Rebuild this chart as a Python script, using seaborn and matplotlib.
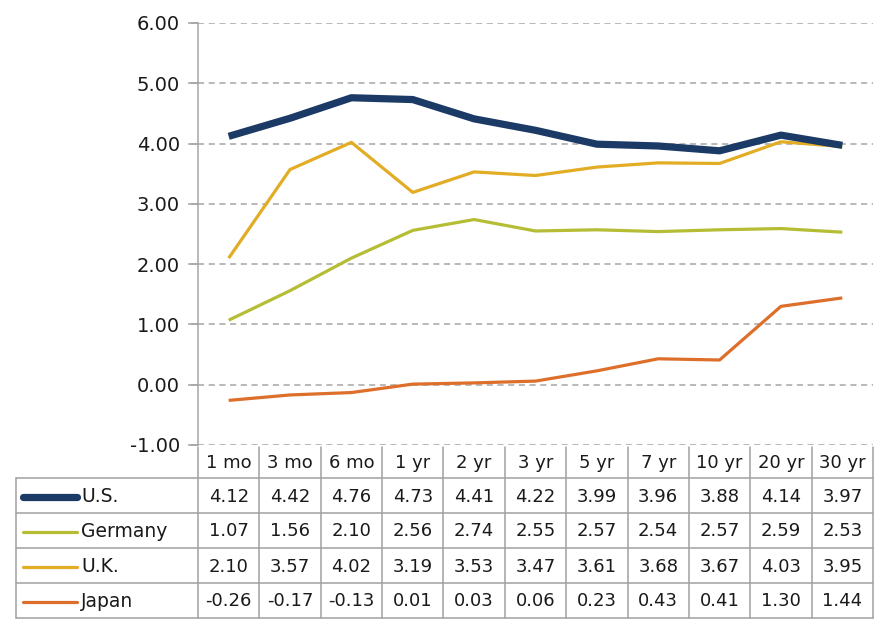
import matplotlib
matplotlib.use("Agg")
import matplotlib.pyplot as plt
import seaborn as sns
import pandas as pd
from matplotlib.lines import Line2D

tenors = ["1 mo", "3 mo", "6 mo", "1 yr", "2 yr", "3 yr", "5 yr", "7 yr", "10 yr", "20 yr", "30 yr"]
us = [4.12, 4.42, 4.76, 4.73, 4.41, 4.22, 3.99, 3.96, 3.88, 4.14, 3.97]
germany = [1.07, 1.56, 2.10, 2.56, 2.74, 2.55, 2.57, 2.54, 2.57, 2.59, 2.53]
uk = [2.10, 3.57, 4.02, 3.19, 3.53, 3.47, 3.61, 3.68, 3.67, 4.03, 3.95]
japan = [-0.26, -0.17, -0.13, 0.01, 0.03, 0.06, 0.23, 0.43, 0.41, 1.30, 1.44]
series_names = ["U.S.", "Germany", "U.K.", "Japan"]
yticks = [-1, 0, 1, 2, 3, 4, 5, 6]

colors = {"U.S.": "#1b3a66", "Germany": "#b5bd35", "U.K.": "#e2ad25", "Japan": "#dd6f2b"}
widths = {"U.S.": 5.2, "Germany": 2.3, "U.K.": 2.3, "Japan": 2.3}

sns.set_theme(style="white")
plt.rcParams["font.family"] = ["DejaVu Sans"]
plt.rcParams["axes.unicode_minus"] = False

W, H = 888, 621
fig = plt.figure(figsize=(W / 100, H / 100), dpi=100)

def fx(x):
    return x / W

def fy(y):
    return 1 - y / H

ax_l, ax_r, ax_t, ax_b = 198, 873, 23, 445
ax = fig.add_axes([fx(ax_l), fy(ax_b), (ax_r - ax_l) / W, (ax_b - ax_t) / H])

values = {"U.S.": us, "Germany": germany, "U.K.": uk, "Japan": japan}
rows = []
for name in series_names:
    for i, t in enumerate(tenors):
        rows.append({"tenor": t, "pos": i, "series": name, "value": values[name][i]})
df = pd.DataFrame(rows)

for name in ["Japan", "Germany", "U.K.", "U.S."]:
    sns.lineplot(data=df[df.series == name], x="pos", y="value", ax=ax,
                 color=colors[name], linewidth=widths[name], legend=False,
                 solid_capstyle="butt", solid_joinstyle="round")

txt = "#1a1a1a"
ax.set_xlim(-0.5, len(tenors) - 0.5)
ax.set_ylim(-1, 6)
ax.set_yticks(yticks)
ax.set_yticklabels([f"{v:.2f}" for v in yticks], fontsize=14, color=txt)
ax.set_xticks([])
ax.set_xlabel("")
ax.set_ylabel("")
for y in yticks:
    ax.axhline(y, color="#a6a6a6", lw=1.1, ls=(0, (4, 3)), zorder=0)
for s in ["top", "right", "bottom"]:
    ax.spines[s].set_visible(False)
ax.spines["left"].set_color("#a6a6a6")
ax.spines["left"].set_linewidth(1.1)
ax.tick_params(axis="y", direction="out", length=7, width=1.1, color="#a6a6a6",
               pad=6, left=True)

# short gridline stubs left of the axis (as in the reference)
for y in yticks:
    ax.plot([-0.5 - 7 / ((ax_r - ax_l) / len(tenors)), -0.5], [y, y],
            color="#a6a6a6", lw=1.1, clip_on=False, zorder=0)

# --- data table ---
col_edges = [ax_l + i * (ax_r - ax_l) / len(tenors) for i in range(len(tenors) + 1)]
row_edges = [447, 478, 513, 548, 583, 618]
tbl_left = 16
gcol = "#a0a0a0"
lw = 1.1

def hline(y, x0, x1):
    fig.add_artist(Line2D([fx(x0), fx(x1)], [fy(y), fy(y)], color=gcol, lw=lw))

def vline(x, y0, y1):
    fig.add_artist(Line2D([fx(x), fx(x)], [fy(y0), fy(y1)], color=gcol, lw=lw))

for y in row_edges[1:]:
    hline(y, tbl_left, ax_r)
for x in col_edges:
    vline(x, row_edges[0], row_edges[-1])
vline(tbl_left, row_edges[1], row_edges[-1])

fs = 13
for i, t in enumerate(tenors):
    cx = (col_edges[i] + col_edges[i + 1]) / 2
    cy = (row_edges[0] + row_edges[1]) / 2 + 1
    fig.text(fx(cx), fy(cy), t, ha="center", va="center", fontsize=fs, color=txt)

for r, name in enumerate(series_names):
    cy = (row_edges[r + 1] + row_edges[r + 2]) / 2 + 1
    fig.add_artist(Line2D([fx(23), fx(77)], [fy(cy), fy(cy)], color=colors[name],
                          lw=widths[name], solid_capstyle="round"))
    fig.text(fx(81), fy(cy), name, ha="left", va="center", fontsize=fs + 0.5, color=txt)
    for i, v in enumerate(values[name]):
        cx = (col_edges[i] + col_edges[i + 1]) / 2
        fig.text(fx(cx), fy(cy), f"{v:.2f}", ha="center", va="center", fontsize=fs, color=txt)

fig.savefig("out.png", dpi=100)
